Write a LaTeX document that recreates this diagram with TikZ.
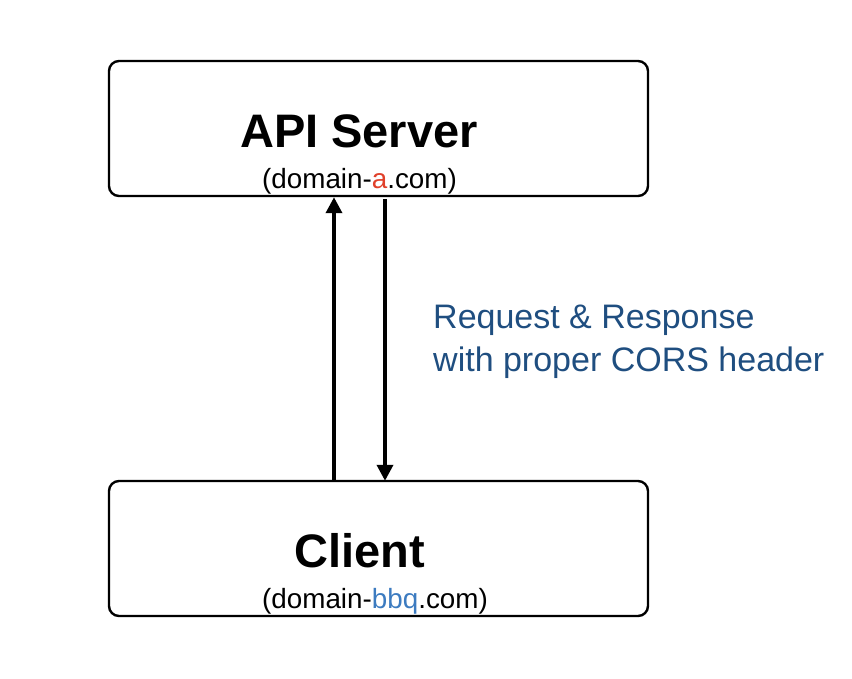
\documentclass[tikz,border=0pt]{standalone}
\usepackage{fontspec}
\setmainfont{Liberation Sans}
\usetikzlibrary{arrows.meta}
\definecolor{domred}{HTML}{E0402A}
\definecolor{domblue}{HTML}{3C7BC0}
\definecolor{lblblue}{HTML}{1F4E80}
\begin{document}
\begin{tikzpicture}[x=1pt,y=-1pt,
  box/.style={draw,line width=2.4pt,rounded corners=10pt,minimum width=539pt,minimum height=135pt,inner sep=0pt},
  title/.style={font=\fontsize{47}{50}\selectfont\bfseries,anchor=base,inner sep=0pt},
  dom/.style={font=\fontsize{27.8}{30}\selectfont,anchor=base west,inner sep=0pt},
  arr/.style={line width=3.6pt,-{Triangle[width=16pt,length=16pt]}},
  lbl/.style={font=\fontsize{34}{43}\selectfont,text=lblblue,align=left,anchor=north west,inner sep=0pt}]
\useasboundingbox (0,0) rectangle (852,678);
\node[box] (api) at (378.5,128.5) {};
\node[box] (cl) at (378.5,548.5) {};
\node[title] (apit) at (359,147) {API Server};
\node[dom] (apid) at (262,188) {(domain-\textcolor{domred}{a}.com)};
\node[title] (clt) at (359.5,567) {Client};
\node[dom] (cld) at (262,608) {(domain-\textcolor{domblue}{bbq}.com)};
\coordinate (upx) at (334,0);
\coordinate (dnx) at (385,0);
\coordinate (dnstart) at (385,199);
\draw[arr] (cl.north -| upx) -- (api.south -| upx);
\draw[arr] (dnstart) -- ([yshift=-1pt]cl.north -| dnx);
\node[lbl] (lab) at (433,305) {Request \& Response\\with proper CORS header};
\end{tikzpicture}
\end{document}
